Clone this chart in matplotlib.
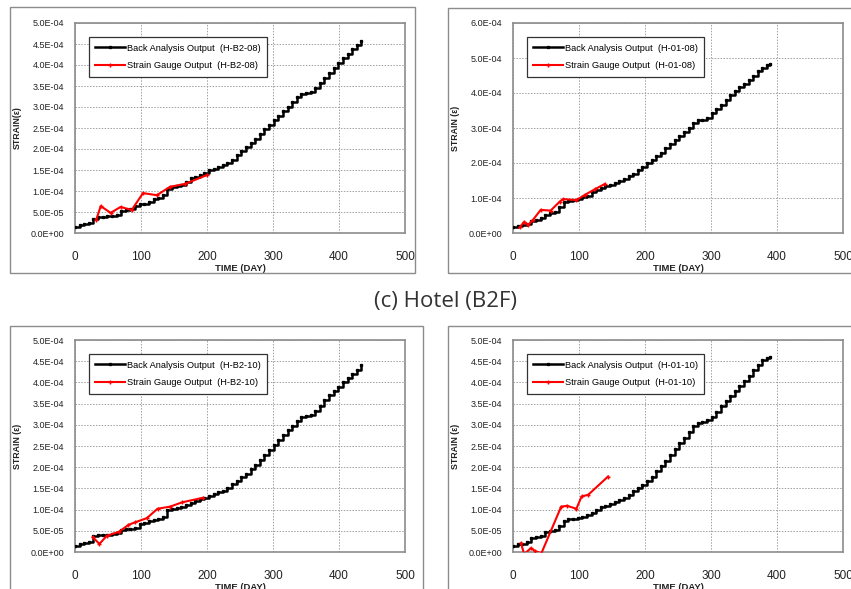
import matplotlib
matplotlib.use("Agg")
import matplotlib.pyplot as plt
from matplotlib.ticker import FuncFormatter, MultipleLocator
from matplotlib.patches import Rectangle

plt.rcParams['font.family'] = ['Liberation Sans', 'DejaVu Sans']

# ---------------- data (strain values in units of 1e-5) ----------------
SCALE = 1e-5

# (a) H-B2-08
b1_x = [0, 7, 14, 21, 28, 35, 42, 49, 56, 63, 70, 77, 84, 91, 98, 105, 112, 119, 126, 133,
        140, 147, 154, 161, 168, 175, 182, 189, 196, 203, 210, 217, 224, 231, 238, 245, 252,
        259, 266, 273, 280, 287, 294, 301, 308, 315, 322, 329, 336, 343, 350, 357, 364, 371,
        378, 385, 392, 399, 406, 413, 420, 427, 434]
b1_y = [1.5, 1.8, 2.1, 2.3, 3.4, 3.7, 3.9, 4.0, 4.1, 4.3, 5.3, 5.5, 5.7, 6.5, 6.8, 7.0, 7.3,
        8.0, 8.3, 9.0, 10.4, 11.0, 11.2, 11.5, 12.2, 13.0, 13.4, 13.9, 14.4, 14.9, 15.3, 15.7,
        16.2, 16.7, 17.5, 18.5, 19.5, 20.5, 21.5, 22.5, 23.6, 24.7, 25.8, 26.8, 27.9, 29.0,
        30.1, 31.3, 32.5, 33.1, 33.3, 33.6, 34.6, 35.8, 37.0, 38.2, 39.4, 40.5, 41.6, 42.7,
        43.7, 44.7, 45.7]
r1_x = [32, 39, 54, 69, 86, 103, 124, 144, 167, 200]
r1_y = [3.1, 6.4, 4.8, 6.2, 5.5, 9.5, 9.0, 11.0, 11.7, 13.8]

# (b) H-01-08
b2_x = [0, 7, 14, 21, 28, 35, 42, 49, 56, 63, 70, 77, 84, 91, 98, 105, 112, 119, 126, 133,
        140, 147, 154, 161, 168, 175, 182, 189, 196, 203, 210, 217, 224, 231, 238, 245, 252,
        259, 266, 273, 280, 287, 294, 301, 308, 315, 322, 329, 336, 343, 350, 357, 364, 371,
        378, 385, 389]
b2_y = [1.8, 2.0, 2.4, 2.7, 3.3, 3.8, 4.3, 5.2, 5.6, 6.0, 7.3, 8.8, 9.2, 9.3, 9.6, 10.2,
        10.6, 11.8, 12.4, 12.9, 13.3, 13.6, 14.2, 14.8, 15.3, 16.2, 17.0, 18.0, 19.0, 20.1,
        21.0, 22.0, 23.0, 24.2, 25.3, 26.5, 27.6, 28.8, 30.0, 31.4, 32.3, 32.4, 33.0, 34.2,
        35.3, 36.5, 38.0, 39.4, 40.6, 41.7, 42.7, 43.8, 45.0, 46.3, 47.2, 47.9, 48.3]
r2_x = [10, 17, 23, 30, 42, 57, 71, 76, 96, 109, 124, 139]
r2_y = [1.6, 3.2, 2.3, 3.7, 6.6, 6.4, 9.0, 9.7, 9.4, 10.9, 12.5, 14.0]

# (c) H-B2-10
b3_x = b1_x
b3_y = [1.5, 1.8, 2.1, 2.3, 3.7, 3.9, 4.0, 4.1, 4.3, 4.4, 5.2, 5.4, 5.5, 5.7, 6.6, 6.8, 7.2,
        7.6, 7.9, 8.3, 9.9, 10.2, 10.4, 10.6, 11.0, 11.6, 12.0, 12.4, 12.8, 13.2, 13.7, 14.1,
        14.5, 15.1, 16.1, 16.8, 17.6, 18.5, 19.5, 20.6, 21.7, 22.8, 24.0, 25.2, 26.4, 27.6,
        28.7, 29.8, 30.9, 31.8, 32.0, 32.3, 33.3, 34.5, 35.8, 37.0, 38.0, 39.0, 40.0, 41.0,
        42.0, 43.0, 44.1]
r3_x = [27, 37, 48, 67, 81, 91, 109, 125, 144, 162, 194]
r3_y = [3.5, 1.9, 3.8, 4.8, 6.4, 7.0, 8.0, 10.2, 10.7, 11.7, 12.8]

# (d) H-01-10
b4_x = b2_x
b4_y = [1.5, 1.8, 2.0, 2.3, 3.3, 3.6, 3.8, 4.7, 4.9, 5.2, 6.1, 7.3, 7.7, 7.9, 8.1, 8.3, 8.7,
        9.2, 9.8, 10.5, 10.9, 11.3, 11.8, 12.3, 12.8, 13.5, 14.3, 15.0, 15.9, 16.8, 17.8,
        19.0, 20.2, 21.5, 22.8, 24.2, 25.6, 27.0, 28.3, 29.7, 30.4, 30.7, 31.1, 31.8, 33.1,
        34.4, 35.6, 36.8, 38.0, 39.2, 40.4, 41.6, 42.9, 44.2, 45.3, 45.7, 45.9]
r4_x = [12, 17, 27, 34, 43, 73, 82, 96, 104, 114, 144]
r4_y = [2.1, -0.5, 0.9, 0.2, -0.3, 10.7, 10.9, 10.2, 13.1, 13.5, 17.8]

panels = [
    dict(bx=b1_x, by=b1_y, rx=r1_x, ry=r1_y, tag="H-B2-08", ymax=5e-4, ystep=5e-5,
         ylabel="STRAIN(\u03b5)"),
    dict(bx=b2_x, by=b2_y, rx=r2_x, ry=r2_y, tag="H-01-08", ymax=6e-4, ystep=1e-4,
         ylabel="STRAIN (\u03b5)"),
    dict(bx=b3_x, by=b3_y, rx=r3_x, ry=r3_y, tag="H-B2-10", ymax=5e-4, ystep=5e-5,
         ylabel="STRAIN (\u03b5)"),
    dict(bx=b4_x, by=b4_y, rx=r4_x, ry=r4_y, tag="H-01-10", ymax=5e-4, ystep=5e-5,
         ylabel="STRAIN (\u03b5)"),
]

W, H = 851, 589
fig = plt.figure(figsize=(W / 100, H / 100), dpi=100)
fig.patch.set_facecolor("white")

# axes boxes in pixels: (left, top, right, bottom)
ax_px = [(75, 23, 405, 233), (513, 23, 843, 233), (75, 340, 405, 552), (513, 340, 843, 552)]
frame_px = [(10, 7, 415, 273), (448, 8, 860, 273), (10, 326, 423, 600), (448, 326, 860, 600)]

for (l, t, r, b) in frame_px:
    fig.add_artist(Rectangle((l / W, 1 - b / H), (r - l) / W, (b - t) / H,
                             transform=fig.transFigure, fill=False,
                             edgecolor="#8c8c8c", linewidth=1.0))

fmt = FuncFormatter(lambda v, p: f"{v:.1E}")

for p, (l, t, r, b) in zip(panels, ax_px):
    ax = fig.add_axes([l / W, 1 - b / H, (r - l) / W, (b - t) / H])
    bx = p["bx"]
    by = [v * SCALE for v in p["by"]]
    rx = p["rx"]
    ry = [v * SCALE for v in p["ry"]]
    ax.plot(bx, by, color="black", lw=1.8, marker="s", ms=1.4, drawstyle="steps-post",
            label=f"Back Analysis Output  ({p['tag']})", zorder=3)
    ax.plot(rx, ry, color="#ff0000", lw=1.5, marker="+", ms=2.5,
            label=f"Strain Gauge Output  ({p['tag']})", zorder=4)
    ax.set_xlim(0, 500)
    ax.set_ylim(0, p["ymax"])
    ax.xaxis.set_major_locator(MultipleLocator(100))
    ax.yaxis.set_major_locator(MultipleLocator(p["ystep"]))
    ax.yaxis.set_major_formatter(fmt)
    ax.grid(True, color="#a0a0a0", lw=0.7, linestyle=(0, (1.5, 1.5)))
    ax.set_axisbelow(True)
    for s in ax.spines.values():
        s.set_color("#8c8c8c")
        s.set_linewidth(1.2)
    ax.tick_params(axis="y", length=0, pad=8, labelsize=6.5, colors="#222222")
    ax.tick_params(axis="x", length=0, pad=13, labelsize=8.5, colors="#222222")
    ax.set_xlabel("TIME (DAY)", fontsize=6.8, fontweight="bold", labelpad=1, color="#222222")
    ax.set_ylabel(p["ylabel"], fontsize=6.3, fontweight="bold", labelpad=6, color="#222222")
    leg = ax.legend(loc="upper left", bbox_to_anchor=(0.027, 0.955), fontsize=6.7,
                    frameon=True, fancybox=False, edgecolor="#333333", framealpha=1,
                    handlelength=3.2, labelspacing=0.9, borderpad=0.7, handletextpad=0.2)
    leg.get_frame().set_linewidth(0.9)

fig.text(446 / W, 1 - 302 / H, "(c) Hotel (B2F)", ha="center", va="center",
         fontsize=16, color="#333333", family=["Open Sans", "DejaVu Sans"])

fig.savefig("out.png", dpi=100)
